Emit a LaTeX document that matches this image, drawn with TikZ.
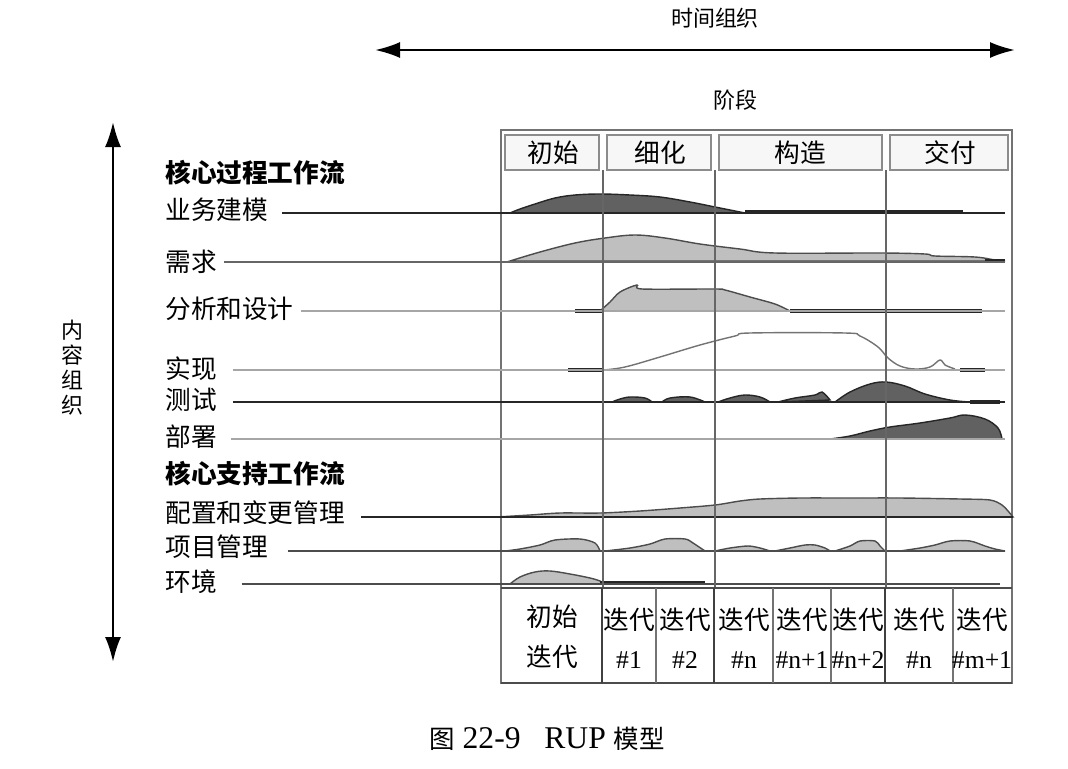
\documentclass[tikz,border=0pt]{standalone}
\usepackage{fontspec}
\setmainfont{Liberation Serif}
\newfontfamily\cjk{Noto Sans CJK SC}
\usetikzlibrary{arrows.meta}
\tikzset{
  lbl/.style={inner sep=0pt, font=\cjk\fontsize{14.6}{17}\selectfont},
  hdr/.style={lbl, font=\cjk\fontsize{12.5}{15}\selectfont},
  cell/.style={inner sep=0pt, font=\fontsize{14.6}{17}\selectfont, align=center},
  flowline/.style={line width=1.1pt, black!85},
  grayline/.style={line width=1.4pt, black!35},
  darkhump/.style={fill=black!62, draw=black!85, line width=0.8pt},
  lighthump/.style={fill=black!25, draw=black!70, line width=0.8pt},
  thickseg/.style={line width=2pt, black!85},
  grid/.style={line width=1.1pt, black!60},
  bigarrow/.style={line width=1.3pt, {Latex[length=5mm,width=3.2mm]}-{Latex[length=5mm,width=3.2mm]}},
  phasebox/.style={draw=black!45, fill=black!3, line width=0.8pt}
}
\begin{document}
\begin{tikzpicture}[x=0.02cm,y=-0.02cm]
\useasboundingbox (0,0) rectangle (1068,768);

% top: time organisation
\node[hdr] (time) at (715,18) {时间组织};
\coordinate (tL) at (375,50);
\coordinate (tR) at (1015,50);
\draw[bigarrow] (tL) -- (tR);
\node[hdr] (stage) at (735,100) {阶段};

% left: content organisation
\coordinate (vT) at (113,122);
\coordinate (vB) at (113,662);
\draw[bigarrow] (vT) -- (vB);
\node[hdr, align=center, font=\cjk\fontsize{12.5}{14.2}\selectfont] (content) at (72,368) {内\\容\\组\\织};

% frame
\draw[line width=0.9pt, black!55] (501,130) rectangle (1012,683);

% phase header
\path[phasebox] (505,135) rectangle (599,170);
\path[phasebox] (607,135) rectangle (711,170);
\path[phasebox] (719,135) rectangle (882,170);
\path[phasebox] (890,135) rectangle (1008,170);
\node[lbl] (ph1) at (553,153) {初始};
\node[lbl] (ph2) at (660,153) {细化};
\node[lbl] (ph3) at (800,153) {构造};
\node[lbl] (ph4) at (950,153) {交付};

% left labels
\node[lbl, font=\cjk\bfseries\fontsize{14.6}{17}\selectfont, anchor=west] (core1) at (165,173) {核心过程工作流};
\node[lbl, anchor=west] (bm) at (165,210) {业务建模};
\node[lbl, anchor=west] (rq) at (165,262) {需求};
\node[lbl, anchor=west] (ad) at (165,309) {分析和设计};
\node[lbl, anchor=west] (im) at (165,369) {实现};
\node[lbl, anchor=west] (ts) at (165,400) {测试};
\node[lbl, anchor=west] (dp) at (165,437) {部署};
\node[lbl, font=\cjk\bfseries\fontsize{14.6}{17}\selectfont, anchor=west] (core2) at (165,474) {核心支持工作流};
\node[lbl, anchor=west] (cm) at (165,513) {配置和变更管理};
\node[lbl, anchor=west] (pm) at (165,547) {项目管理};
\node[lbl, anchor=west] (ev) at (165,582) {环境};

% ---------- humps ----------
% business modelling
\filldraw[darkhump] plot[smooth, tension=0.6] coordinates {(510,213) (520,209) (535,204) (555,198) (575,195) (600,194) (630,195) (660,197) (690,202) (715,207) (735,211) (745,213)} -- cycle;
\draw[thickseg] (745,212) -- (963,212);
% requirements
\filldraw[lighthump] plot[smooth, tension=0.6] coordinates {(510,261) (540,252) (575,243) (605,238) (635,235) (665,238) (700,244) (740,249) (775,253) (880,253) (925,254) (935,256) (975,257) (995,260) (1005,261)} -- cycle;
\draw[thickseg] (985,261) -- (1005,261);
% analysis and design
\draw[thickseg] (575,311) -- (603,311);
\filldraw[lighthump] plot[smooth, tension=0.5] coordinates {(600,311) (610,302) (620,292) (637,285) (642,289) (715,289) (725,290) (750,297) (775,304) (790,311)} -- cycle;
\draw[thickseg] (790,311) -- (982,311);
% implementation
\draw[thickseg] (568,370) -- (603,370);
\draw[line width=0.8pt, black!55] plot[smooth, tension=0.6] coordinates {(603,370) (625,367) (660,357) (700,345) (735,336) (750,333) (845,333) (860,336) (878,347) (888,358) (900,366) (915,369) (930,367) (940,360) (945,365) (955,369)};
\draw[thickseg] (960,370) -- (985,370);
% test
\filldraw[darkhump] plot[smooth, tension=0.6] coordinates {(612,402) (620,399) (630,397) (645,398) (652,402)} -- cycle;
\filldraw[darkhump] plot[smooth, tension=0.6] coordinates {(662,402) (670,398) (690,397) (705,402)} -- cycle;
\filldraw[darkhump] plot[smooth, tension=0.6] coordinates {(718,402) (730,398) (745,395) (760,397) (770,402)} -- cycle;
\filldraw[darkhump] plot[smooth, tension=0.6] coordinates {(778,402) (795,398) (815,395) (822,392) (830,400)} -- cycle;
\filldraw[darkhump] plot[smooth, tension=0.6] coordinates {(835,402) (850,392) (870,384) (886,382) (905,386) (925,394) (950,400) (970,402)} -- cycle;
\draw[thickseg] (970,402) -- (1000,402);
% deployment
\filldraw[darkhump] plot[smooth, tension=0.6] coordinates {(830,439) (850,436) (870,431) (890,427) (920,423) (950,418) (965,415) (985,419) (998,428) (1002,439)} -- cycle;
% configuration & change management
\filldraw[lighthump] plot[smooth, tension=0.5] coordinates {(497,517) (530,515) (560,513) (600,513) (640,511) (680,508) (715,505) (740,501) (760,499) (800,498) (850,498) (900,498) (960,499) (990,500) (1002,505) (1008,511) (1013,517)} -- cycle;
% project management
\filldraw[lighthump] plot[smooth, tension=0.5] coordinates {(505,551) (520,549) (540,545) (555,540) (580,539) (595,543) (600,551)} -- cycle;
\filldraw[lighthump] plot[smooth, tension=0.5] coordinates {(605,551) (630,548) (650,544) (665,539) (685,539) (693,543) (705,551)} -- cycle;
\filldraw[lighthump] plot[smooth, tension=0.5] coordinates {(715,551) (730,548) (748,546) (760,548) (770,551)} -- cycle;
\filldraw[lighthump] plot[smooth, tension=0.5] coordinates {(775,551) (790,548) (805,545) (815,545) (825,548) (830,551)} -- cycle;
\filldraw[lighthump] plot[smooth, tension=0.5] coordinates {(835,551) (850,546) (860,541) (875,541) (880,546) (885,551)} -- cycle;
\filldraw[lighthump] plot[smooth, tension=0.5] coordinates {(900,551) (920,548) (935,545) (950,541) (970,541) (985,546) (995,549) (1005,551)} -- cycle;
% environment
\filldraw[lighthump] plot[smooth, tension=0.6] coordinates {(510,584) (520,577) (535,572) (550,571) (570,574) (590,578) (600,581) (605,584)} -- cycle;
\draw[thickseg] (600,583) -- (705,583);

% ---------- workflow base lines ----------
\coordinate (bmE) at (1005,213);
\coordinate (rqE) at (1005,262);
\coordinate (adE) at (1005,311);
\coordinate (imE) at (1005,370);
\coordinate (tsE) at (1005,402);
\coordinate (dpE) at (1005,439);
\coordinate (cmE) at (1013,517);
\coordinate (pmE) at (1005,551);
\coordinate (evE) at (1000,584);
\draw[flowline, shorten <=8pt] (bm.east |- bmE) -- (bmE);
\draw[flowline, black!60, shorten <=4pt] (rq.east |- rqE) -- (rqE);
\draw[grayline, shorten <=4pt] (ad.east |- adE) -- (adE);
\draw[grayline, shorten <=9pt] (im.east |- imE) -- (imE);
\draw[flowline, shorten <=9pt] (ts.east |- tsE) -- (tsE);
\draw[grayline, shorten <=8pt] (dp.east |- dpE) -- (dpE);
\draw[flowline, shorten <=9pt] (cm.east |- cmE) -- (cmE);
\draw[flowline, black!70, shorten <=11pt] (pm.east |- pmE) -- (pmE);
\draw[flowline, black!70, shorten <=14pt] (ev.east |- evE) -- (evE);

% ---------- phase grid ----------
\foreach \x in {603,715,886} {
  \draw[grid] (\x,170) -- (\x,588);
}

% ---------- iteration table ----------
\draw[line width=1.2pt, black!70] (501,588) -- (1012,588);
\draw[line width=1pt, black!70] (501,683) -- (1012,683);
\foreach \x in {602,714,885} {
  \draw[line width=1.2pt, black!75] (\x,588) -- (\x,683);
}
\foreach \x in {656,773,831,953} {
  \draw[line width=0.8pt, black!55] (\x,588) -- (\x,683);
}
\node[lbl] (it0a) at (552,617) {初始};
\node[lbl] (it0b) at (552,657) {迭代};
\node[lbl] (it1a) at (629,620) {迭代};
\node[cell] (it1b) at (629,660) {\#1};
\node[lbl] (it2a) at (685,620) {迭代};
\node[cell] (it2b) at (685,660) {\#2};
\node[lbl] (it3a) at (744,620) {迭代};
\node[cell] (it3b) at (744,660) {\#n};
\node[lbl] (it4a) at (802,620) {迭代};
\node[cell] (it4b) at (802,660) {\#n+1};
\node[lbl] (it5a) at (858,620) {迭代};
\node[cell] (it5b) at (858,660) {\#n+2};
\node[lbl] (it6a) at (919,620) {迭代};
\node[cell] (it6b) at (919,660) {\#n};
\node[lbl] (it7a) at (982,620) {迭代};
\node[cell] (it7b) at (982,660) {\#m+1};

% caption
\node[inner sep=0pt, font=\fontsize{18}{21}\selectfont] (cap) at (547,739) {{\cjk\fontsize{14.5}{17}\selectfont 图} 22-9\hspace{0.75em}RUP {\cjk\fontsize{14.5}{17}\selectfont 模型}};
\end{tikzpicture}
\end{document}
